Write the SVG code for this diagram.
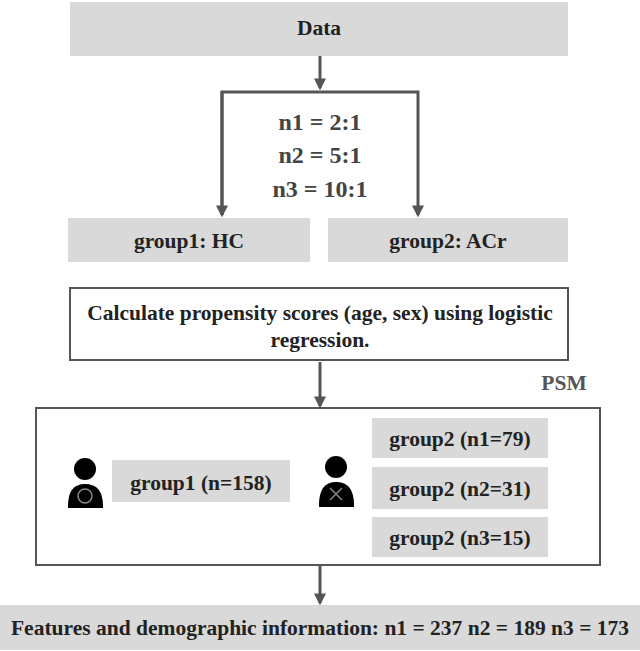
<svg xmlns="http://www.w3.org/2000/svg" width="640" height="651" viewBox="0 0 640 651">
<style>
.g{fill:#d9d9d9}
.b{fill:#fff;stroke:#555;stroke-width:2}
text{font-family:"Liberation Serif","Times New Roman",serif;font-weight:bold;font-size:21.5px;fill:#222;text-anchor:middle}
.r{font-size:24px;fill:#444}
.c{stroke:#555;stroke-width:3;fill:none}
</style>
<defs><marker id="a" viewBox="0 0 10 10" refX="8" refY="5" markerWidth="4" markerHeight="4" orient="auto"><path d="M0,0L10,5L0,10z" fill="#555"/></marker></defs>
<rect width="640" height="651" fill="#fff"/>
<g id="data"><rect class="g" x="70" y="2" width="498" height="54"/><text x="319" y="35">Data</text></g>
<g id="ratios"><text class="r" x="320" y="130">n1 = 2:1</text><text class="r" x="320" y="163">n2 = 5:1</text><text class="r" x="320" y="197">n3 = 10:1</text></g>
<g id="g1hc"><rect class="g" x="68" y="218" width="242" height="44"/><text x="189" y="248">group1: HC</text></g>
<g id="g2acr"><rect class="g" x="328" y="218" width="240" height="44"/><text x="448" y="248">group2: ACr</text></g>
<g id="calc"><rect class="b" x="70" y="288" width="498" height="72"/><text x="320" y="320">Calculate propensity scores (age, sex) using logistic</text><text x="320" y="347">regression.</text></g>
<g id="psm"><text x="564" y="390" style="fill:#555">PSM</text></g>
<g id="match"><rect class="b" x="36" y="408" width="564" height="157"/>
<g id="icon1"><circle cx="85" cy="469" r="11" fill="#000"/><path d="M68,506 Q68,484 85,484 Q103,484 103,506 L103,508 L68,508Z" fill="#000"/><circle cx="85" cy="496" r="7" fill="none" stroke="#888" stroke-width="1.5"/></g>
<g id="g1n"><rect class="g" x="112" y="460" width="178" height="42"/><text x="201" y="490">group1 (n=158)</text></g>
<g id="icon2"><circle cx="336" cy="467" r="11" fill="#000"/><path d="M319,505 Q319,482 336,482 Q354,482 354,505 L354,507 L319,507Z" fill="#000"/><path d="M330,500 L342,488 M330,488 L342,500" stroke="#888" stroke-width="1.5"/></g>
<g id="g2a"><rect class="g" x="372" y="418" width="176" height="40"/><text x="460" y="446">group2 (n1=79)</text></g>
<g id="g2b"><rect class="g" x="372" y="467" width="176" height="42"/><text x="460" y="496">group2 (n2=31)</text></g>
<g id="g2c"><rect class="g" x="372" y="517" width="176" height="40"/><text x="460" y="545">group2 (n3=15)</text></g>
</g>
<g id="feat"><rect class="g" x="0" y="605" width="640" height="45"/><text x="320" y="635">Features and demographic information: n1 = 237 n2 = 189 n3 = 173</text></g>
<g id="connectors">
<path class="c" d="M320,56V88" marker-end="url(#a)"/>
<path class="c" d="M222,215V92H418V215" marker-end="url(#a)"/>
<path class="c" d="M222,92V215" marker-end="url(#a)"/>
<path class="c" d="M320,362V406" marker-end="url(#a)"/>
<path class="c" d="M320,566V603" marker-end="url(#a)"/>
</g>
</svg>
